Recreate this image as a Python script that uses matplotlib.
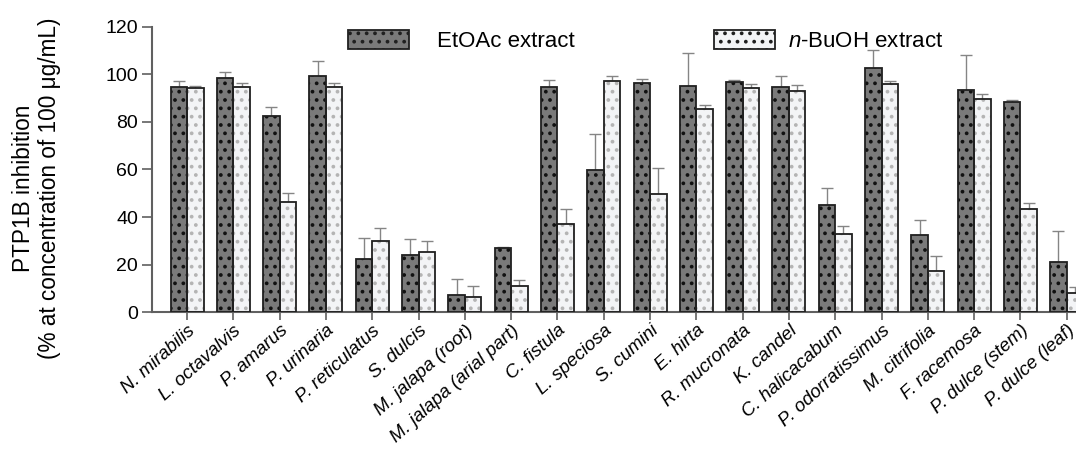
import numpy as np
import matplotlib
matplotlib.use('Agg')
import matplotlib.pyplot as plt
import matplotlib.patches as mpatches

plt.rcParams['font.family'] = ['Liberation Sans', 'DejaVu Sans']
plt.rcParams['mathtext.fontset'] = 'custom'
plt.rcParams['mathtext.rm'] = 'Liberation Sans'
plt.rcParams['mathtext.it'] = 'Liberation Sans:italic'
plt.rcParams['hatch.linewidth'] = 1.5

plants = ['N. mirabilis', 'L. octavalvis', 'P. amarus', 'P. urinaria', 'P. reticulatus',
          'S. dulcis', 'M. jalapa (root)', 'M. jalapa (arial part)', 'C. fistula', 'L. speciosa',
          'S. cumini', 'E. hirta', 'R. mucronata', 'K. candel', 'C. halicacabum',
          'P. odorratissimus', 'M. citrifolia', 'F. racemosa', 'P. dulce (stem)', 'P. dulce (leaf)']

etoac = [94.7, 98.3, 82.5, 99.3, 22.2, 23.9, 7.3, 27.0, 94.7, 59.7,
         96.4, 95.0, 96.6, 94.7, 45.2, 102.7, 32.6, 93.6, 88.2, 21.0]
etoac_err = [2.5, 2.5, 3.9, 6.3, 9.1, 6.7, 6.5, 0.4, 3.1, 15.4,
             1.6, 13.9, 0.9, 4.5, 7.1, 7.5, 6.1, 14.7, 0.9, 13.0]

buoh = [94.4, 94.7, 46.4, 94.6, 29.9, 25.2, 6.3, 11.0, 37.2, 97.2,
        49.8, 85.3, 94.1, 93.1, 33.0, 95.9, 17.3, 89.5, 43.6, 8.2]
buoh_err = [0.7, 1.7, 3.9, 1.8, 5.6, 4.7, 4.6, 2.7, 6.3, 2.2,
            10.8, 1.7, 1.7, 2.4, 3.2, 1.3, 6.3, 2.1, 2.3, 2.6]

fig = plt.figure(figsize=(10.76, 4.5), dpi=100)
ax = fig.add_axes([0.1413, 0.306, 0.8587, 0.6347])

x = np.arange(len(plants))
w = 0.356
grey = '#858585'
dark_face = '#7a7a7a'
light_face = '#f3f4f6'

# bars: hatch layer first, then outline on top
ax.bar(x - w/2, etoac, w, color=dark_face, edgecolor='#111111', hatch='..', linewidth=0, zorder=2)
ax.bar(x - w/2, etoac, w, fill=False, edgecolor='#202020', linewidth=1.3, zorder=3)
ax.bar(x + w/2, buoh, w, color=light_face, edgecolor='#b4b4b4', hatch='..', linewidth=0, zorder=2)
ax.bar(x + w/2, buoh, w, fill=False, edgecolor='#202020', linewidth=1.3, zorder=3)

ax.errorbar(x - w/2, etoac, yerr=[np.zeros(len(etoac)), etoac_err], fmt='none',
            ecolor=grey, elinewidth=1.0, capsize=4, capthick=1.0, zorder=1)
ax.errorbar(x + w/2, buoh, yerr=[np.zeros(len(buoh)), buoh_err], fmt='none',
            ecolor=grey, elinewidth=1.0, capsize=4, capthick=1.0, zorder=1)

ax.set_xlim(-0.756, 19.2)
ax.set_ylim(0, 120)
ax.set_yticks(range(0, 121, 20))
ax.set_xticks(x)
ax.set_xticklabels(plants, rotation=42, ha='right', va='top', rotation_mode='anchor',
                   fontstyle='italic', fontsize=13.5)
ax.tick_params(axis='y', labelsize=14, colors='#606060', labelcolor='black', length=7, width=1.2, pad=3)
ax.tick_params(axis='x', colors='#606060', labelcolor='black', length=6, width=1.2, pad=1)

for s in ['top', 'right']:
    ax.spines[s].set_visible(False)
for s in ['left', 'bottom']:
    ax.spines[s].set_color('#606060')
    ax.spines[s].set_linewidth(1.5)

ax.set_ylabel('PTP1B inhibition\n(% at concentration of 100 \u03bcg/mL)', fontsize=16.3,
              linespacing=1.2)
ax.yaxis.set_label_coords(-0.098, 0.435)

# two legend entries placed separately, as in the original
fs = 16
h1 = mpatches.Patch(facecolor=dark_face, edgecolor='#202020', hatch='..', linewidth=1.3)
h2 = mpatches.Patch(facecolor=light_face, edgecolor='#202020', hatch='..', linewidth=1.3)
leg1 = fig.legend([h1], ['EtOAc extract'], frameon=False, loc='center left',
                  bbox_to_anchor=(337/1076, 1 - 41/450), fontsize=fs, borderpad=0,
                  handlelength=61/22.2, handleheight=0.95, handletextpad=28/22.2)
leg2 = fig.legend([h2], [r'$\it{n}$-BuOH extract'], frameon=False, loc='center left',
                  bbox_to_anchor=(703/1076, 1 - 41/450), fontsize=fs, borderpad=0,
                  handlelength=61/22.2, handleheight=0.95, handletextpad=13/22.2)

fig.savefig('out.png', dpi=100)
